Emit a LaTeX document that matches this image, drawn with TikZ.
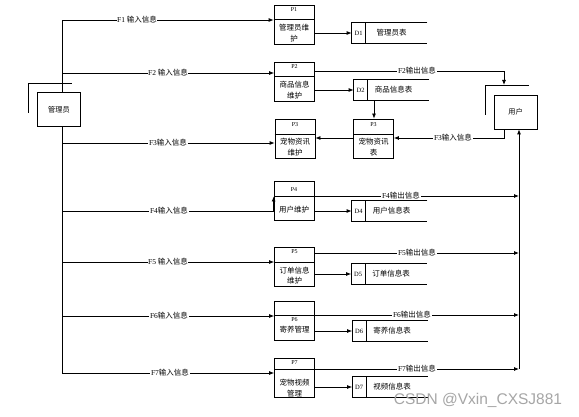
\documentclass[tikz,border=0pt]{standalone}
\usepackage{fontspec}
\setmainfont{Noto Sans CJK SC}
\newfontfamily\lat{Liberation Serif}
\newfontfamily\wmfont{Liberation Sans}
\usetikzlibrary{arrows.meta}
\begin{document}
\begin{tikzpicture}[x=1pt,y=-1pt,line width=0.8pt,
  arr/.style={-{Latex[length=5pt,width=4pt]}},
  pbox/.style={draw,inner sep=0pt,minimum width=40pt,minimum height=39pt},
  sbox/.style={inner sep=0pt,minimum width=75pt,minimum height=20pt},
  ent/.style={draw,inner sep=0pt,minimum width=43pt,minimum height=34pt,font=\fontsize{7.2}{8}\selectfont},
  pid/.style={inner sep=0pt,font=\lat\fontsize{6}{6}\selectfont},
  pname/.style={inner sep=0pt,align=center,font=\fontsize{7.5}{10.5}\selectfont},
  sid/.style={inner sep=0pt,font=\lat\fontsize{6.5}{6}\selectfont},
  sname/.style={inner sep=0pt,font=\fontsize{7.5}{8}\selectfont},
  lab/.style={fill=white,inner sep=0.6pt,font=\fontsize{7.5}{8}\selectfont}]
\useasboundingbox (0,0) rectangle (579,417);
\fill[white] (0,0) rectangle (579,417);

% external entities
\node[ent] (admin) at (59,109.5) {管理员};
\draw (28,113) -- (28,83) -- (72,83);
\node[ent] (user) at (515.5,112) {用户};
\draw (485,115) -- (485,85) -- (529,85);

% processes
\node[pbox] (p1) at (294,24.5) {};
\node[pbox] (p2) at (294.5,81.5) {};
\node[pbox] (p3a) at (295,139) {};
\node[pbox] (p3b) at (373.5,138.5) {};
\node[pbox] (p4) at (294,200.5) {};
\node[pbox] (p5) at (294.5,266.5) {};
\node[pbox] (p6) at (294.5,320.5) {};
\node[pbox] (p7) at (294.5,378) {};
\draw (p1.west |- 0,19) -- (p1.east |- 0,19);
\draw (p2.west |- 0,76) -- (p2.east |- 0,76);
\draw (p3a.west |- 0,134) -- (p3a.east |- 0,134);
\draw (p3b.west |- 0,134) -- (p3b.east |- 0,134);
\draw (p5.west |- 0,262) -- (p5.east |- 0,262);

\node[pid] (p1i) at (294,10) {P1};
\node[pname] (p1n) at (294,33) {管理员维\\护};
\node[pid] (p2i) at (294.5,67) {P2};
\node[pname] (p2n) at (294.5,90) {商品信息\\维护};
\node[pid] (p3ai) at (295,125) {P3};
\node[pname] (p3an) at (295,147) {宠物资讯\\维护};
\node[pid] (p3bi) at (373.5,125) {P3};
\node[pname] (p3bn) at (373.5,147) {宠物资讯\\表};
\node[pid] (p4i) at (294,190) {P4};
\node[pname] (p4n) at (294,210) {用户维护};
\node[pid] (p5i) at (294.5,252) {P5};
\node[pname] (p5n) at (294.5,275.5) {订单信息\\维护};
\node[pid] (p6i) at (294.5,320) {P6};
\node[pname] (p6n) at (294.5,330) {寄养管理};
\node[pid] (p7i) at (294.5,363) {P7};
\node[pname] (p7n) at (294.5,388) {宠物视频\\管理};

% data stores
\node[sbox] (d1) at (389.5,33) {};
\node[sbox] (d2) at (391.5,90) {};
\node[sbox] (d4) at (389.5,211) {};
\node[sbox] (d5) at (389,274) {};
\node[sbox] (d6) at (390,331) {};
\node[sbox] (d7) at (390,387) {};
\foreach \d/\id/\nm in {d1/D1/管理员表,d2/D2/商品信息表,d4/D4/用户信息表,d5/D5/订单信息表,d6/D6/寄养信息表,d7/D7/视频信息表}{
  \draw (\d.north east) -- (\d.north west) -- (\d.south west) -- (\d.south east);
  \draw ([xshift=14pt]\d.north west) -- ([xshift=14pt]\d.south west);
  \node[sid] (\d i) at ([xshift=7pt]\d.west) {\id};
  \node[sname] (\d n) at ([xshift=40pt]\d.west) {\nm};
}

% trunk from admin
\coordinate (f1) at (62,20);
\coordinate (f2) at (62,73);
\coordinate (f3) at (62,143);
\coordinate (f4) at (62,211);
\coordinate (f5) at (62,262);
\coordinate (f6) at (62,316);
\coordinate (f7) at (62,373);
\draw (admin.north -| f1) -- (f1);
\draw (admin.south -| f7) -- (f7);
\draw[arr] (f1) -- (f1 -| p1.west);
\draw[arr] (f2) -- (f2 -| p2.west);
\draw[arr] (f3) -- (f3 -| p3a.west);
\draw[arr] (f4) -- (f4 -| p4.west) -- (p4.west |- 0,196.5);
\draw[arr] (f5) -- (f5 -| p5.west);
\draw[arr] (f6) -- (f6 -| p6.west);
\draw[arr] (f7) -- (f7 -| p7.west);
\node[lab] (l1) at (137,20) {{\lat F1} 输入信息};
\node[lab] (l2) at (168,73) {{\lat F2} 输入信息};
\node[lab] (l3) at (168,143) {{\lat F3}输入信息};
\node[lab] (l4) at (169,211) {{\lat F4}输入信息};
\node[lab] (l5) at (168,262) {{\lat F5} 输入信息};
\node[lab] (l6) at (169,316) {{\lat F6}输入信息};
\node[lab] (l7) at (170,373) {{\lat F7}输入信息};

% process -> store
\draw[arr] (p1.east |- d1.west) -- (d1.west);
\draw[arr] (p2.east |- d2.west) -- (d2.west);
\draw[arr] (p4.east |- d4.west) -- (d4.west);
\draw[arr] (p5.east |- d5.west) -- (d5.west);
\draw[arr] (p6.east |- d6.west) -- (d6.west);
\draw[arr] (p7.east |- d7.west) -- (d7.west);

% P3 chain
\draw[arr] (d2.south -| 374,0) -- (p3b.north -| 374,0);
\draw[arr] (p3b.west |- 0,138) -- (p3a.east |- 0,138);

% user flows
\coordinate (u2) at (504,71);
\coordinate (u3) at (504,138);
\draw[arr] (p2.east |- u2) -- (u2) -- (504,85);
\node[lab] (lo2) at (417,71) {{\lat F2}输出信息};
\draw[arr] (user.south -| u3) -- (u3) -- (p3b.east |- u3);
\node[lab] (li3) at (453,138) {{\lat F3}输入信息};

% collector to user
\coordinate (c4) at (519,196);
\coordinate (c5) at (519,253);
\coordinate (c6) at (519,315);
\coordinate (c7) at (519,369);
\draw[arr] (c7) -- (c7 |- user.south);
\draw[arr] (p4.west |- c4) -- (c4);
\draw[arr] (p5.east |- c5) -- (c5);
\draw[arr] (p6.west |- c6) -- (c6);
\draw[arr] (p7.west |- c7) -- (c7);
\node[lab] (lo4) at (401,196) {{\lat F4}输出信息};
\node[lab] (lo5) at (417,253) {{\lat F5}输出信息};
\node[lab] (lo6) at (412,315) {{\lat F6}输出信息};
\node[lab] (lo7) at (417,369) {{\lat F7}输出信息};

% watermark
\node[text=black!35,inner sep=0pt,font=\wmfont\fontsize{15.5}{16}\selectfont] (wm) at (478,400) {CSDN @Vxin\_CXSJ881};
\end{tikzpicture}
\end{document}
